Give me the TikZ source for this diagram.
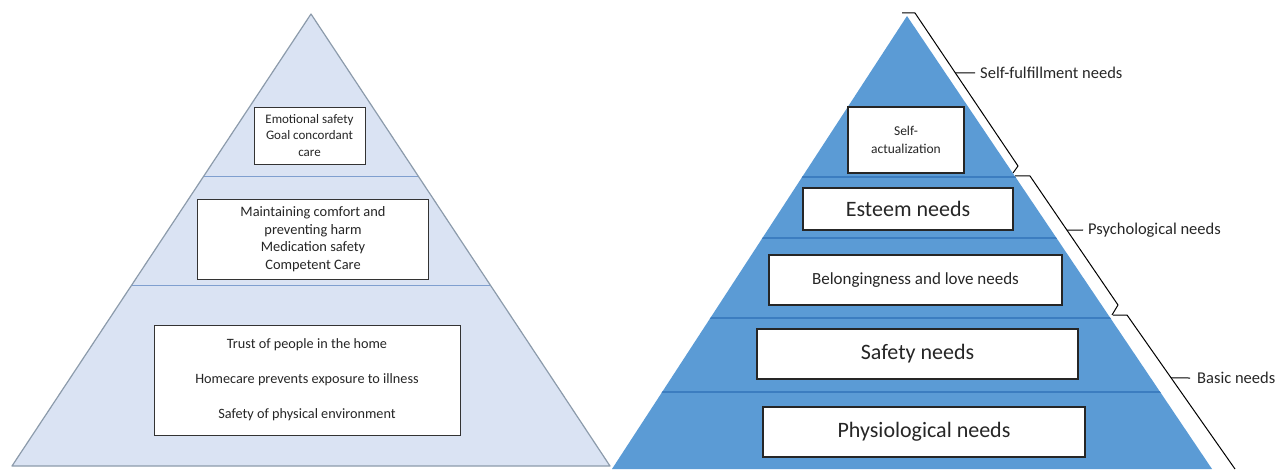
\documentclass[tikz,border=0pt]{standalone}
\usepackage{fontspec}
\setmainfont{Carlito}
\definecolor{lfill}{HTML}{DAE3F3}
\definecolor{ledge}{HTML}{8C9BAB}
\definecolor{lsep}{HTML}{7F9FCF}
\definecolor{rfill}{HTML}{5B9BD5}
\definecolor{rsep}{HTML}{3C7DC0}
\definecolor{ltext}{HTML}{262626}
\begin{document}
\begin{tikzpicture}[x=1pt,y=-1pt,
  lbox/.style={draw=black!80, fill=white, line width=0.8pt, align=center, inner sep=0pt, text=ltext},
  rbox/.style={draw=black!85, fill=white, line width=1.3pt, align=center, inner sep=0pt, text=ltext},
  brk/.style={draw=black, line width=1pt, line join=round},
  lab/.style={anchor=west, inner xsep=5pt, inner ysep=0pt, text=ltext, font=\fontsize{16.5}{19}\selectfont}]
\useasboundingbox (0,0) rectangle (1279,470);

% ---------- left pyramid ----------
\coordinate (LA) at (311,14);
\coordinate (LL) at (12,466);
\coordinate (LR) at (610,466);
\fill[lfill] (LA) -- (LL) -- (LR) -- cycle;
\begin{scope}
  \clip (LA) -- (LL) -- (LR) -- cycle;
  \draw[lsep, line width=1pt] (0,177) -- (640,177);
  \draw[lsep, line width=1pt] (0,285) -- (640,285);
\end{scope}
\draw[ledge, line width=1.2pt, line join=round] (LA) -- (LL) -- (LR) -- cycle;

\node[lbox, minimum width=111pt, minimum height=57pt,
      font=\fontsize{13}{16.5}\selectfont] (b1) at (309.5,135.5)
  {Emotional safety\\Goal concordant\\care};
\node[lbox, minimum width=231pt, minimum height=80pt,
      font=\fontsize{14.4}{17.6}\selectfont] (b2) at (313,239)
  {Maintaining comfort and\\preventing harm\\Medication safety\\Competent Care};
\node[lbox, minimum width=306pt, minimum height=110pt,
      font=\fontsize{14.25}{17.5}\selectfont] (b3) at (307,380)
  {Trust of people in the home\\[17.5pt]Homecare prevents exposure to illness\\[17.5pt]Safety of physical environment};

% ---------- right pyramid ----------
\coordinate (RA) at (907,16);
\coordinate (RL) at (612,469);
\coordinate (RR) at (1212,469);
\fill[rfill] (RA) -- (RL) -- (RR) -- cycle;
\begin{scope}
  \clip (RA) -- (RL) -- (RR) -- cycle;
  \foreach \yy in {177,238,318,392}
    \draw[rsep, line width=2.5pt] (600,\yy) -- (1230,\yy);
\end{scope}

\node[rbox, minimum width=116pt, minimum height=66pt,
      font=\fontsize{13.5}{17.5}\selectfont] (r1) at (906,140)
  {Self-\\actualization};
\node[rbox, minimum width=210pt, minimum height=42pt,
      font=\fontsize{22}{26}\selectfont] (r2) at (908,209) {Esteem needs};
\node[rbox, minimum width=293pt, minimum height=50pt,
      font=\fontsize{17}{20}\selectfont] (r3) at (915.5,280) {Belongingness and love needs};
\node[rbox, minimum width=321pt, minimum height=50pt,
      font=\fontsize{22}{26}\selectfont] (r4) at (917.5,354) {Safety needs};
\node[rbox, minimum width=322pt, minimum height=50pt,
      font=\fontsize{22}{26}\selectfont] (r5) at (924,432) {Physiological needs};

% ---------- brackets ----------
\draw[brk] (902,13) -- (915,13) -- (1018,166) -- (1013,173);
\path (915,13) -- (1018,166) coordinate[pos=0.392] (t1);
\node[lab] (l1) at (975,73) {Self-fulfillment needs};
\draw[brk] (t1) -- (l1.west);

\draw[brk] (1015,176) -- (1030,176) -- (1118,305) -- (1112,315);
\path (1030,176) -- (1118,305) coordinate[pos=0.419] (t2);
\node[lab] (l2) at (1083,230) {Psychological needs};
\draw[brk] (t2) -- (l2.west);

\draw[brk] (1113,315) -- (1127,315) -- (1235,469);
\path (1127,315) -- (1235,469) coordinate[pos=0.409] (t3);
\node[lab, inner xsep=7pt] (l3) at (1190,378) {Basic needs};
\draw[brk] (t3) -- (l3.west);
\end{tikzpicture}
\end{document}
